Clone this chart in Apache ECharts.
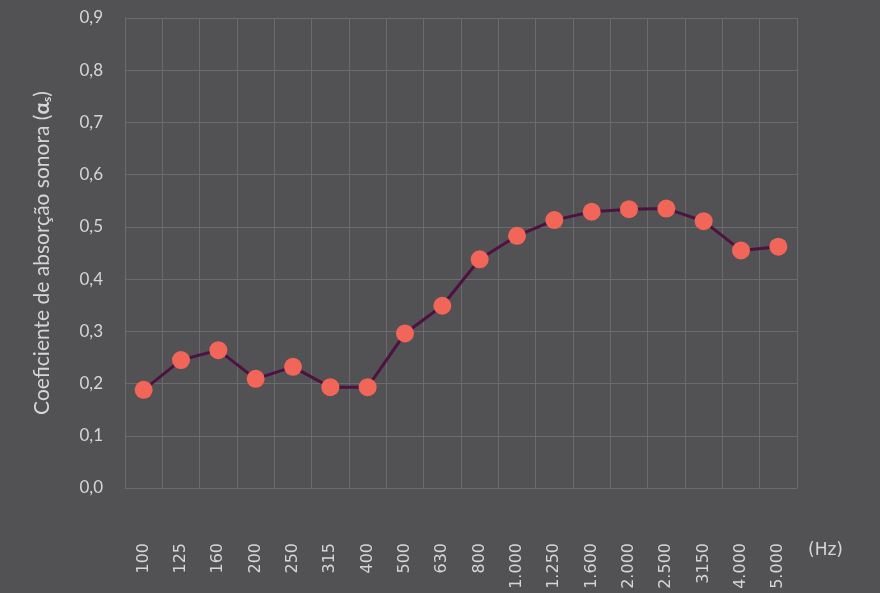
<!DOCTYPE html>
<html>
<head>
<meta charset="utf-8">
<script src="https://cdn.jsdelivr.net/npm/echarts@6/dist/echarts.min.js"></script>
<style>
  html, body { margin: 0; padding: 0; background: #525254; }
  #chart { width: 880px; height: 593px; }
</style>
</head>
<body>
<div id="chart"></div>
<script>
// Frequency bands (Hz) along the horizontal axis
const frequencies = ['100', '125', '160', '200', '250', '315', '400', '500', '630', '800',
  '1.000', '1.250', '1.600', '2.000', '2.500', '3150', '4.000', '5.000'];

// Sound absorption coefficient per band
const absorption = [0.188, 0.245, 0.264, 0.209, 0.232, 0.193, 0.193, 0.296, 0.349, 0.438,
  0.483, 0.513, 0.529, 0.534, 0.535, 0.511, 0.455, 0.462];

const yMin = 0, yMax = 0.9, yStep = 0.1;

const textColor = '#d6d6d6';
const gridColor = '#6b6b6d';
const font = 'Lato, "Noto Sans", sans-serif';
const wideFont = '"DejaVu Sans", Lato, sans-serif';

const chart = echarts.init(document.getElementById('chart'), null, { renderer: 'canvas' });

chart.setOption({
  backgroundColor: '#525254',
  animation: false,
  grid: { left: 125, right: 83, top: 18, bottom: 105 },
  xAxis: {
    type: 'category',
    data: frequencies,
    boundaryGap: true,
    axisLine: { show: true, lineStyle: { color: gridColor, width: 1 } },
    axisTick: { show: false },
    splitLine: { show: true, interval: 0, lineStyle: { color: gridColor, width: 1 } },
    axisLabel: {
      interval: 0, rotate: 90, margin: 55,
      color: textColor, fontFamily: wideFont, fontSize: 16
    }
  },
  yAxis: {
    type: 'value',
    min: yMin, max: yMax, interval: yStep,
    axisLine: { show: true, lineStyle: { color: gridColor, width: 1 } },
    axisTick: { show: false },
    splitLine: { show: true, lineStyle: { color: gridColor, width: 1 } },
    axisLabel: {
      margin: 22, color: textColor, fontFamily: font, fontSize: 17,
      formatter: v => v.toFixed(1).replace('.', ',')
    },
    name: '{t|Coeficiente de absorção sonora (}{a|α}{s|s}{t|)}',
    nameLocation: 'middle',
    nameGap: 72,
    nameRotate: 90,
    nameTextStyle: {
      rich: {
        t: { color: textColor, fontFamily: font, fontSize: 21 },
        a: { color: textColor, fontFamily: font, fontSize: 21, fontWeight: 'bold' },
        s: { color: textColor, fontFamily: font, fontSize: 12, fontWeight: 'bold', verticalAlign: 'bottom', padding: [8, 0, 0, 0] }
      }
    }
  },
  graphic: [{
    type: 'text',
    left: 808, top: 542,
    style: { text: '(Hz)', fill: textColor, font: '17px ' + wideFont }
  }],
  series: [{
    type: 'line',
    data: absorption,
    symbol: 'circle',
    symbolSize: 18,
    lineStyle: { color: '#4e1240', width: 3 },
    itemStyle: { color: '#f2665a', borderWidth: 0 }
  }]
});
</script>
</body>
</html>
